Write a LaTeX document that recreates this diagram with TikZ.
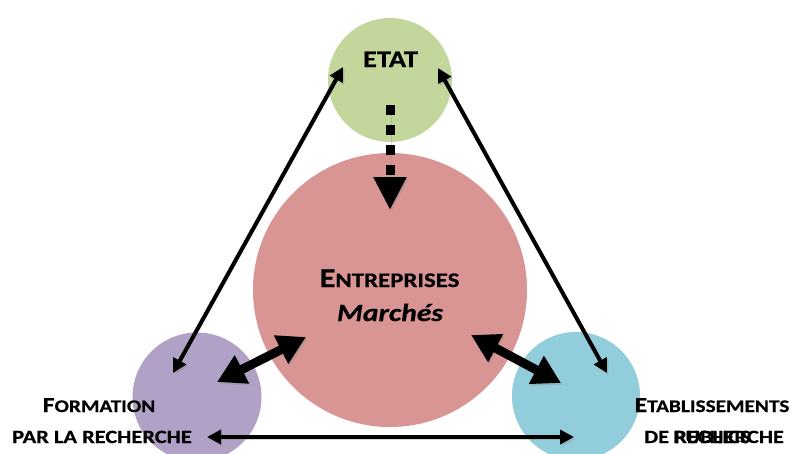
\documentclass[tikz,border=0pt]{standalone}
\usepackage{fontspec}
\setmainfont{Carlito}[FakeStretch=1.2, BoldFeatures={FakeBold=0.6}, BoldItalicFeatures={FakeBold=0.6}]
\usetikzlibrary{arrows.meta}
\definecolor{cgreen}{RGB}{195,214,155}
\definecolor{cpink}{RGB}{217,149,148}
\definecolor{cpurple}{RGB}{178,161,199}
\definecolor{cblue}{RGB}{146,205,220}
\newcommand\bigsc[1]{{\fontsize{21.5}{24}\selectfont #1}}
\newcommand\smsc[1]{{\fontsize{17.7}{21}\selectfont #1}}
\newcommand\lnsc[1]{{\fontsize{18.7}{21}\selectfont #1}}
\tikzset{
  blob/.style={circle, inner sep=0pt, minimum size=#1},
  lbl/.style={anchor=base, inner sep=0pt, font=\bfseries},
  shad/.style={preaction={draw=black!45, opacity=0.35, transform canvas={shift={(1.5pt,-2pt)}}}},
  thinarr/.style={line width=4pt, {Triangle[length=14pt,width=14pt]}-{Triangle[length=14pt,width=14pt]}, shad},
  thickarr/.style={line width=9pt, {Triangle[length=28pt,width=30pt]}-{Triangle[length=28pt,width=30pt]}, shad},
  dotarr/.style={line width=9pt, dash pattern=on 10pt off 10pt, -{Triangle[length=33pt,width=31pt]}, shad}
}
\begin{document}
\begin{tikzpicture}[x=1pt,y=-1pt]
\useasboundingbox (0,0) rectangle (794,453);
% circles
\node[blob=124pt, fill=cgreen] (etat) at (390,80) {};
\node[blob=274pt, fill=cpink] (entr) at (390,290) {};
\node[blob=129pt, fill=cpurple] (form) at (197,397) {};
\node[blob=128pt, fill=cblue] (etab) at (576,396) {};
% arrow end points
\coordinate (eL) at (343,67);
\coordinate (eR) at (438,68);
\coordinate (fT) at (173,373);
\coordinate (bT) at (607,373);
\coordinate (fB) at (207,437);
\coordinate (bB) at (574,437);
\coordinate (fC) at (217,382);
\coordinate (cF) at (306,337);
\coordinate (cB) at (471,335);
\coordinate (bC) at (561,383);
\coordinate (eD) at (390,105);
\coordinate (cT) at (390,210);
% arrows
\draw[thinarr] (fT) -- (eL);
\draw[thinarr] (eR) -- (bT);
\draw[thinarr] (fB) -- (bB);
\draw[thickarr] (fC) -- (cF);
\draw[thickarr] (cB) -- (bC);
\draw[dotarr] (eD) -- (cT);
% labels
\node[lbl, font=\bfseries\fontsize{23.8}{26}\selectfont] (tEtat) at (390.5,67) {ETAT};
\node[lbl] (tEntr) at (389.5,287) {{\fontsize{27}{29}\selectfont E}{\fontsize{20.7}{24}\selectfont NTREPRISES}};
\node[lbl, font=\bfseries\itshape\fontsize{24.7}{27}\selectfont] (tMarch) at (390,321) {Marchés};
\node[lbl] (tForm1) at (99,412) {\bigsc{F}\smsc{ORMATION}};
\node[lbl] (tForm2) at (102,443) {\lnsc{PAR LA RECHERCHE}};
\node[lbl] (tEtab1) at (712,412) {\bigsc{E}\smsc{TABLISSEMENTS}};
\node[lbl] (tEtab2) at (714,443) {\lnsc{DE RECHERCHE}};
\node[lbl] (tEtab3) at (712,443) {\lnsc{PUBLICS}};
\end{tikzpicture}
\end{document}
